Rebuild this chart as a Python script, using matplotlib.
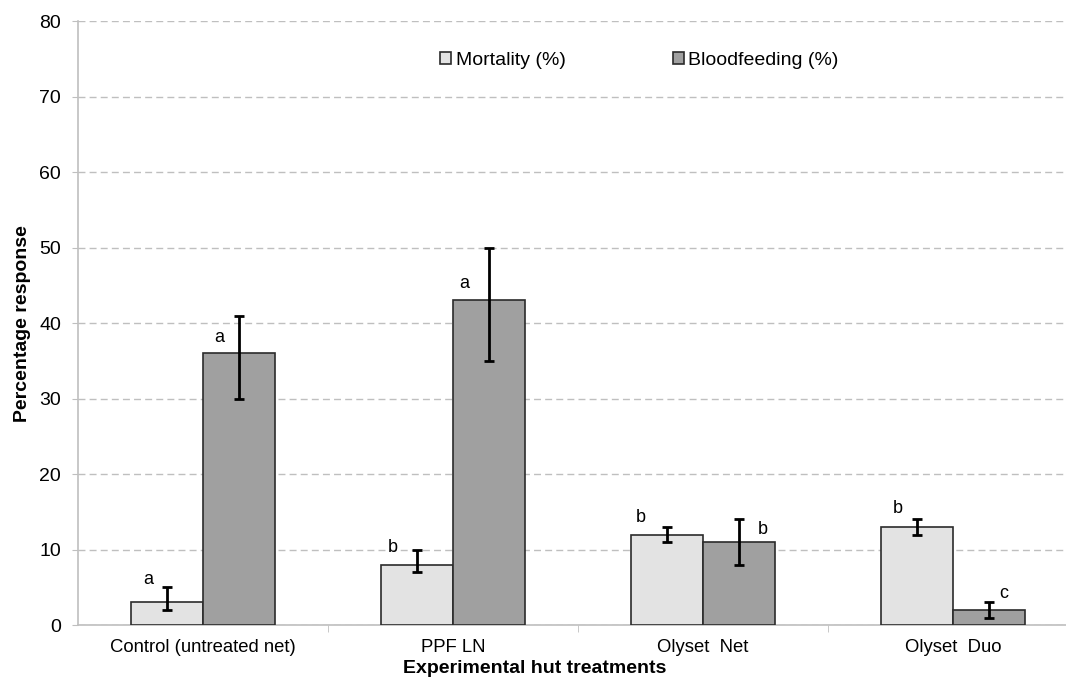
import matplotlib.pyplot as plt
import numpy as np

plt.rcParams['font.family'] = ['Liberation Sans', 'DejaVu Sans']

treatments = ["Control (untreated net)", "PPF LN", "Olyset  Net", "Olyset  Duo"]
mortality = [3, 8, 12, 13]
mortality_low = [2, 7, 11, 12]
mortality_high = [5, 10, 13, 14]
bloodfeeding = [36, 43, 11, 2]
blood_low = [30, 35, 8, 1]
blood_high = [41, 50, 14, 3]
mortality_letters = ["a", "b", "b", "b"]
blood_letters = ["a", "a", "b", "c"]

# where the significance letters sit (offset from group centre, height)
mort_letter_pos = [(-0.22, 6.0), (-0.24, 10.3), (-0.25, 14.3), (-0.22, 15.4)]
blood_letter_pos = [(0.064, 38.1), (0.044, 45.3), (0.24, 12.7), (0.204, 4.2)]


def main():
	fig = plt.figure(figsize=(10.66, 6.78), dpi=100)
	# the original is cropped on the right, the axis runs past the picture edge
	ax = fig.add_axes([0.0732, 0.078, 0.938, 0.891])

	x = np.arange(len(treatments))
	w = 0.287

	m = np.array(mortality)
	b = np.array(bloodfeeding)
	m_err = [m - np.array(mortality_low), np.array(mortality_high) - m]
	b_err = [b - np.array(blood_low), np.array(blood_high) - b]

	ax.bar(x - w / 2, m, w, color="#e3e3e3", edgecolor="#2b2b2b", linewidth=1.2,
	       label="Mortality (%)", zorder=3)
	ax.bar(x + w / 2, b, w, color="#a0a0a0", edgecolor="#2b2b2b", linewidth=1.2,
	       label="Bloodfeeding (%)", zorder=3)
	ax.errorbar(x - w / 2, m, yerr=m_err, fmt="none", ecolor="black", elinewidth=2,
	            capsize=3.5, capthick=2, zorder=4)
	ax.errorbar(x + w / 2, b, yerr=b_err, fmt="none", ecolor="black", elinewidth=2,
	            capsize=3.5, capthick=2, zorder=4)

	for i in range(len(treatments)):
		dx, y = mort_letter_pos[i]
		ax.text(x[i] + dx, y, mortality_letters[i], ha="center", va="center", fontsize=13)
		dx, y = blood_letter_pos[i]
		ax.text(x[i] + dx, y, blood_letters[i], ha="center", va="center", fontsize=13)

	ax.set_xlim(-0.5, len(treatments) - 0.5)
	ax.set_ylim(0, 80)
	ax.set_yticks(range(0, 81, 10))
	ax.set_xticks(x)
	ax.set_xticklabels(treatments, fontsize=13.3)
	ax.set_xticks(np.arange(0.5, len(treatments) - 0.5, 1), minor=True)
	ax.tick_params(axis="x", which="major", length=0, pad=10)
	ax.tick_params(axis="x", which="minor", length=5, color="#bfbfbf", direction="out")
	ax.tick_params(axis="y", length=4.3, color="#bfbfbf", labelsize=14, pad=8)

	ax.yaxis.grid(True, color="#bfbfbf", linestyle=(0, (5, 3)), linewidth=1, zorder=0)
	ax.set_axisbelow(True)

	for side in ["top", "right"]:
		ax.spines[side].set_visible(False)
	ax.spines["left"].set_color("#bfbfbf")
	ax.spines["bottom"].set_color("#bfbfbf")
	ax.spines["left"].set_linewidth(1.2)
	ax.spines["bottom"].set_linewidth(1.2)

	ax.set_xlabel("Experimental hut treatments", fontsize=14, fontweight="bold")
	ax.set_ylabel("Percentage response", fontsize=14, fontweight="bold", labelpad=6)
	ax.xaxis.set_label_coords(0.4565, -0.057)

	fig.legend(*ax.get_legend_handles_labels(), loc="center", bbox_to_anchor=(0.6, 0.911),
	           ncol=2, frameon=False, fontsize=14, handlelength=0.55, handleheight=0.55,
	           handletextpad=0.25, columnspacing=5.5)

	plt.savefig("out.png", dpi=100)


if __name__ == '__main__':
	main()
